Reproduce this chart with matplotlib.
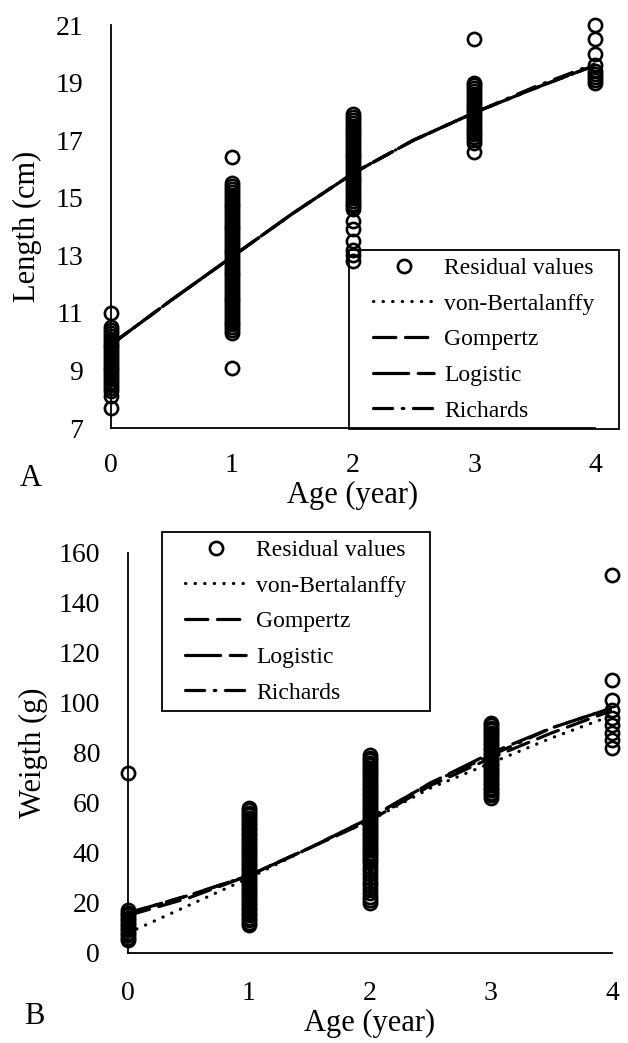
import matplotlib
matplotlib.use('Agg')
import matplotlib.pyplot as plt
from matplotlib.lines import Line2D
from matplotlib.patches import Rectangle

plt.rcParams['font.family'] = ['Liberation Serif', 'DejaVu Serif']

# ---- panel A: length (cm) ----
len_age0 = [11.0, 10.5, 10.4, 10.3, 10.2, 10.1, 10.0, 9.9, 9.8, 9.7, 9.6, 9.5, 9.4,
            9.3, 9.2, 9.1, 9.0, 8.9, 8.8, 8.7, 8.6, 8.5, 8.4, 8.3, 8.1, 7.7]
len_age1 = [16.4, 15.5, 15.4, 15.3, 15.2, 15.1, 15.0, 14.9, 14.8, 14.7, 14.6, 14.5,
            14.4, 14.3, 14.2, 14.1, 14.0, 13.9, 13.8, 13.7, 13.6, 13.5, 13.4, 13.3,
            13.2, 13.1, 13.0, 12.9, 12.8, 12.7, 12.6, 12.5, 12.4, 12.3, 12.2, 12.1,
            12.0, 11.9, 11.8, 11.7, 11.6, 11.5, 11.4, 11.3, 11.2, 11.1, 11.0, 10.9,
            10.8, 10.7, 10.6, 10.5, 10.4, 10.3, 9.1]
len_age2 = [17.9, 17.8, 17.7, 17.6, 17.5, 17.4, 17.3, 17.2, 17.1, 17.0, 16.9, 16.8,
            16.7, 16.6, 16.5, 16.4, 16.3, 16.2, 16.1, 16.0, 15.9, 15.8, 15.7, 15.6,
            15.5, 15.4, 15.3, 15.2, 15.1, 15.0, 14.9, 14.8, 14.7, 14.6, 14.2, 13.9,
            13.5, 13.2, 13.0, 12.8]
len_age3 = [20.5, 19.0, 18.9, 18.8, 18.7, 18.6, 18.5, 18.4, 18.3, 18.2, 18.1, 18.0,
            17.9, 17.8, 17.7, 17.6, 17.5, 17.4, 17.3, 17.2, 17.1, 17.0, 16.9, 16.6]
len_age4 = [21.0, 20.5, 20.0, 19.6, 19.4, 19.3, 19.2, 19.1, 19.0]

# ---- panel B: weight (g) ----
wt_age0 = [72, 17, 16, 15, 14, 13, 12, 11, 10, 9, 8, 7, 6, 5]
wt_age1 = [58, 57, 56, 55, 54, 53, 52, 51, 50, 49, 48, 47, 46, 45, 44, 43, 42, 41,
           40, 39, 38, 37, 36, 35, 34, 33, 32, 31, 30, 29, 28, 27, 26, 25, 24, 23,
           22, 21, 20, 19, 18, 17, 16, 15, 14, 13, 12, 11]
wt_age2 = [79, 78, 77, 76, 75, 74, 73, 72, 71, 70, 69, 68, 67, 66, 65, 64, 63, 62,
           61, 60, 59, 58, 57, 56, 55, 54, 53, 52, 51, 50, 49, 48, 47, 46, 45, 44,
           43, 42, 41, 40, 39, 38, 37, 36, 34.5, 33, 31.5, 30, 28.5, 27, 25.5, 24,
           22.5, 21, 20]
wt_age3 = [92, 91, 90, 89, 88, 87, 86, 85, 84, 83, 82, 81, 80, 79, 78, 77, 76, 75,
           74, 73, 72, 71, 70, 69, 68, 67, 66, 65, 64, 63, 62]
wt_age4 = [151, 109, 101, 97, 94, 91, 88, 85, 82]

# fitted curves, read at half-year steps
curve_age = [0, 0.5, 1, 1.5, 2, 2.5, 3, 3.5, 4]
len_vb = [9.9, 11.45, 12.95, 14.45, 15.85, 17.0, 17.95, 18.8, 19.6]
len_gom = [9.9, 11.45, 12.95, 14.45, 15.85, 17.0, 17.95, 18.8, 19.6]
len_log = [9.9, 11.45, 12.95, 14.45, 15.85, 17.0, 17.95, 18.8, 19.6]
len_ric = [9.9, 11.45, 12.95, 14.45, 15.85, 17.0, 17.95, 18.85, 19.65]

wt_vb = [8, 19, 30, 42, 53, 66, 76, 86, 95]
wt_gom = [15, 22, 31, 42, 53, 67, 78, 88, 97]
wt_log = [16, 23, 31, 42, 54, 68, 80, 90, 98]
wt_ric = [16, 23, 31, 42, 54, 68, 79, 90, 98]

series_names = ['von-Bertalanffy', 'Gompertz', 'Logistic', 'Richards']
line_styles = [(0, (0.1, 2.9)), (0, (7, 3)), (0, (11, 3, 5, 3)), (0, (6, 3, 0.5, 3))]

LW = 2.3
MS = 9.5
MEW = 1.9


def draw_panel(ax, ages_values, curves, ylim, yticks, ylabel, xpad):
    for age, vals in enumerate(ages_values):
        ax.plot([age] * len(vals), vals, 'o', mfc='none', mec='black', ms=MS,
                mew=MEW, clip_on=False, zorder=2)
    for vals, ls in zip(curves, line_styles):
        ax.plot(curve_age, vals, color='black', lw=LW, linestyle=ls,
                dash_capstyle='round', solid_capstyle='round', zorder=3)
    ax.set_xlim(0, 4)
    ax.set_ylim(*ylim)
    ax.set_xticks([0, 1, 2, 3, 4])
    ax.set_yticks(yticks)
    ax.spines['top'].set_visible(False)
    ax.spines['right'].set_visible(False)
    ax.spines['left'].set_linewidth(1.3)
    ax.spines['bottom'].set_linewidth(1.3)
    ax.tick_params(axis='y', length=0, pad=20, labelsize=20)
    ax.tick_params(axis='x', length=0, pad=xpad, labelsize=20)
    ax.set_xlabel('Age (year)', fontsize=22, labelpad=2)
    ax.set_ylabel(ylabel, fontsize=22)


def legend_handles():
    handles = [Line2D([], [], marker='o', ls='none', mfc='none', mec='black',
                      ms=MS, mew=MEW)]
    for ls in line_styles:
        handles.append(Line2D([], [], color='black', lw=LW, linestyle=ls,
                              dash_capstyle='round'))
    return handles


def boxed_legend(center, size):
    fig.legend(legend_handles(), ['Residual values'] + series_names, loc='center',
               bbox_to_anchor=center, fontsize=17, handlelength=2.6,
               handletextpad=0.4, labelspacing=0.6, borderpad=0.2,
               frameon=False, numpoints=1)
    fig.patches.append(Rectangle((center[0] - size[0] / 2, center[1] - size[1] / 2),
                                 size[0], size[1], transform=fig.transFigure,
                                 fill=False, edgecolor='black', lw=1.3))


fig = plt.figure(figsize=(6.28, 10.43), dpi=100)

axA = fig.add_axes([0.1768, 0.5896, 0.7707, 0.3864])
draw_panel(axA, [len_age0, len_age1, len_age2, len_age3, len_age4],
           [len_vb, len_gom, len_log, len_ric], (7, 21), [7, 9, 11, 13, 15, 17, 19, 21],
           'Length (cm)', 18)
axA.yaxis.set_label_coords(-0.142, 0.5)

axB = fig.add_axes([0.2038, 0.0863, 0.7707, 0.3835])
draw_panel(axB, [wt_age0, wt_age1, wt_age2, wt_age3, wt_age4],
           [wt_vb, wt_gom, wt_log, wt_ric], (0, 160), [0, 20, 40, 60, 80, 100, 120, 140, 160],
           'Weigth (g)', 20)
axB.yaxis.set_label_coords(-0.165, 0.5)

boxed_legend((0.7707, 0.6745), (0.43, 0.1716))
boxed_legend((0.4713, 0.4041), (0.4268, 0.1716))

fig.text(31 / 628, 1 - 478 / 1043, 'A', fontsize=22, ha='center', va='center')
fig.text(34 / 628, 1 - 1016 / 1043, 'B', fontsize=22, ha='center', va='center')

fig.savefig('out.png', dpi=100)
